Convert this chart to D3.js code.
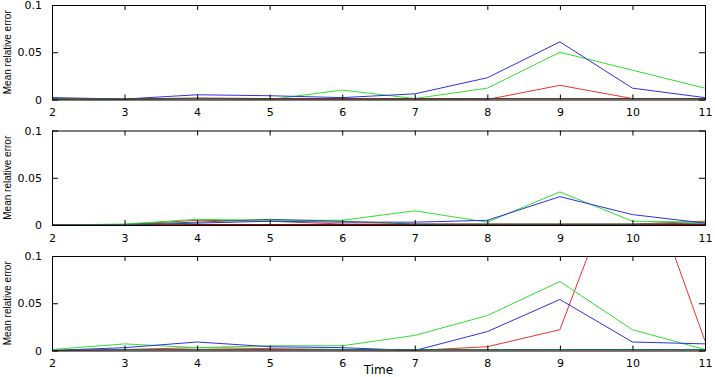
<!DOCTYPE html>
<html>
<head>
<meta charset="utf-8">
<script src="https://cdn.jsdelivr.net/npm/d3@7"></script>
<style>
  body { margin: 0; background: #fff; }
  .tick text { font-family: "DejaVu Sans", sans-serif; font-size: 11px; fill: #000; }
  .domain, .tick line { stroke: #000; }
</style>
</head>
<body>
<svg id="chart" width="715" height="377"></svg>
<script>
// time steps on the x axis
const times = [2, 3, 4, 5, 6, 7, 8, 9, 10, 11];
const yTicks = [0, 0.05, 0.1];

// series values, one set per panel
const p1Red       = [0, 0, 0.001, 0, 0, 0, 0, 0.015, 0.001, 0.001];
const p1Green     = [0.001, 0, 0.001, 0, 0.01, 0.001, 0.012, 0.05, 0.031, 0.012];
const p1Blue      = [0.002, 0.0005, 0.005, 0.004, 0.002, 0.006, 0.023, 0.061, 0.012, 0.002];
const p1DarkRed   = [0.0005, 0.0005, 0.0015, 0.001, 0.001, 0.001, 0.001, 0.001, 0.001, 0.001];
const p1DarkGreen = [0.001, 0.0005, 0.0005, 0.0005, 0.0005, 0.0005, 0.0005, 0.0005, 0.0005, 0.0005];

const p2Red       = [0, 0.0005, 0.005, 0.004, 0.001, 0.001, 0.001, 0.001, 0.001, 0.004];
const p2Green     = [0, 0.001, 0.006, 0.005, 0.005, 0.015, 0.003, 0.035, 0.004, 0.003];
const p2Blue      = [0, 0, 0.002, 0.004, 0.003, 0.003, 0.005, 0.030, 0.011, 0.002];
const p2DarkRed   = [0, 0, 0.0005, 0.0005, 0.0005, 0.0005, 0.0005, 0.0005, 0.0005, 0.0005];
const p2DarkGreen = [0, 0.0005, 0.003, 0.006, 0.004, 0.001, 0.001, 0.001, 0.001, 0.002];

const p3Red       = [0, 0.001, 0.003, 0.002, 0.001, 0, 0.004, 0.022, 0.225, 0.01];
const p3Green     = [0.001, 0.007, 0.003, 0.005, 0.005, 0.016, 0.037, 0.073, 0.022, 0.001];
const p3Blue      = [0, 0.003, 0.009, 0.004, 0.003, 0, 0.02, 0.054, 0.009, 0.007];
const p3DarkRed   = [0, 0.0005, 0.0005, 0.0005, 0.0005, 0.0005, 0.0005, 0.0005, 0.0005, 0.0005];
const p3DarkGreen = [0, 0.001, 0.001, 0.001, 0.001, 0.001, 0.001, 0.001, 0.001, 0.001];

const colors = ["#ee3030", "#30e030", "#3030e0", "#900000", "#207050"];

const panels = [
  [p1Red, p1Green, p1Blue, p1DarkRed, p1DarkGreen],
  [p2Red, p2Green, p2Blue, p2DarkRed, p2DarkGreen],
  [p3Red, p3Green, p3Blue, p3DarkRed, p3DarkGreen],
];

const svg = d3.select("#chart");
const left = 52, right = 705, plotH = 94.5;
const tops = [5, 130.5, 256];

const x = d3.scaleLinear().domain([2, 11]).range([left, right]);

panels.forEach(function (series, p) {
  const top = tops[p];
  const y = d3.scaleLinear().domain([0, 0.1]).range([top + plotH, top]);
  const g = svg.append("g");

  g.append("clipPath").attr("id", "clip" + p)
    .append("rect")
    .attr("x", left).attr("y", top)
    .attr("width", right - left).attr("height", plotH);

  const line = d3.line()
    .x(function (d, i) { return x(times[i]); })
    .y(function (d) { return y(d); });

  g.append("g").attr("clip-path", "url(#clip" + p + ")")
    .selectAll("path")
    .data(series)
    .enter().append("path")
    .attr("d", line)
    .attr("fill", "none")
    .attr("stroke", function (d, i) { return colors[i]; })
    .attr("stroke-width", 1);

  // bottom axis with labels, ticks pointing inward
  g.append("g")
    .attr("transform", "translate(0," + (top + plotH) + ")")
    .call(d3.axisBottom(x).tickValues(times).tickSize(-5).tickSizeOuter(0).tickPadding(9))
    .call(function (a) { a.selectAll("text").attr("dy", "0.71em"); });
  // top axis, ticks only
  g.append("g")
    .attr("transform", "translate(0," + top + ")")
    .call(d3.axisTop(x).tickValues(times).tickSize(-5).tickSizeOuter(0).tickFormat(""));
  // left axis with labels
  g.append("g")
    .attr("transform", "translate(" + left + ",0)")
    .call(d3.axisLeft(y).tickValues(yTicks).tickSize(-6).tickSizeOuter(0).tickPadding(10)
      .tickFormat(function (d) { return String(d); }));
  // right axis, ticks only
  g.append("g")
    .attr("transform", "translate(" + right + ",0)")
    .call(d3.axisRight(y).tickValues(yTicks).tickSize(-6).tickSizeOuter(0).tickFormat(""));

  g.append("text")
    .attr("transform", "translate(11," + (top + plotH / 2) + ")rotate(-90)")
    .attr("text-anchor", "middle")
    .attr("font-family", "'Liberation Sans Narrow', 'Liberation Sans', sans-serif")
    .attr("font-size", 11)
    .attr("textLength", 84)
    .attr("lengthAdjust", "spacingAndGlyphs")
    .text("Mean relative error");
});

svg.append("text")
  .attr("x", (left + right) / 2)
  .attr("y", 374)
  .attr("text-anchor", "middle")
  .attr("font-family", "'DejaVu Sans', sans-serif")
  .attr("font-size", 12)
  .text("Time");
</script>
</body>
</html>
